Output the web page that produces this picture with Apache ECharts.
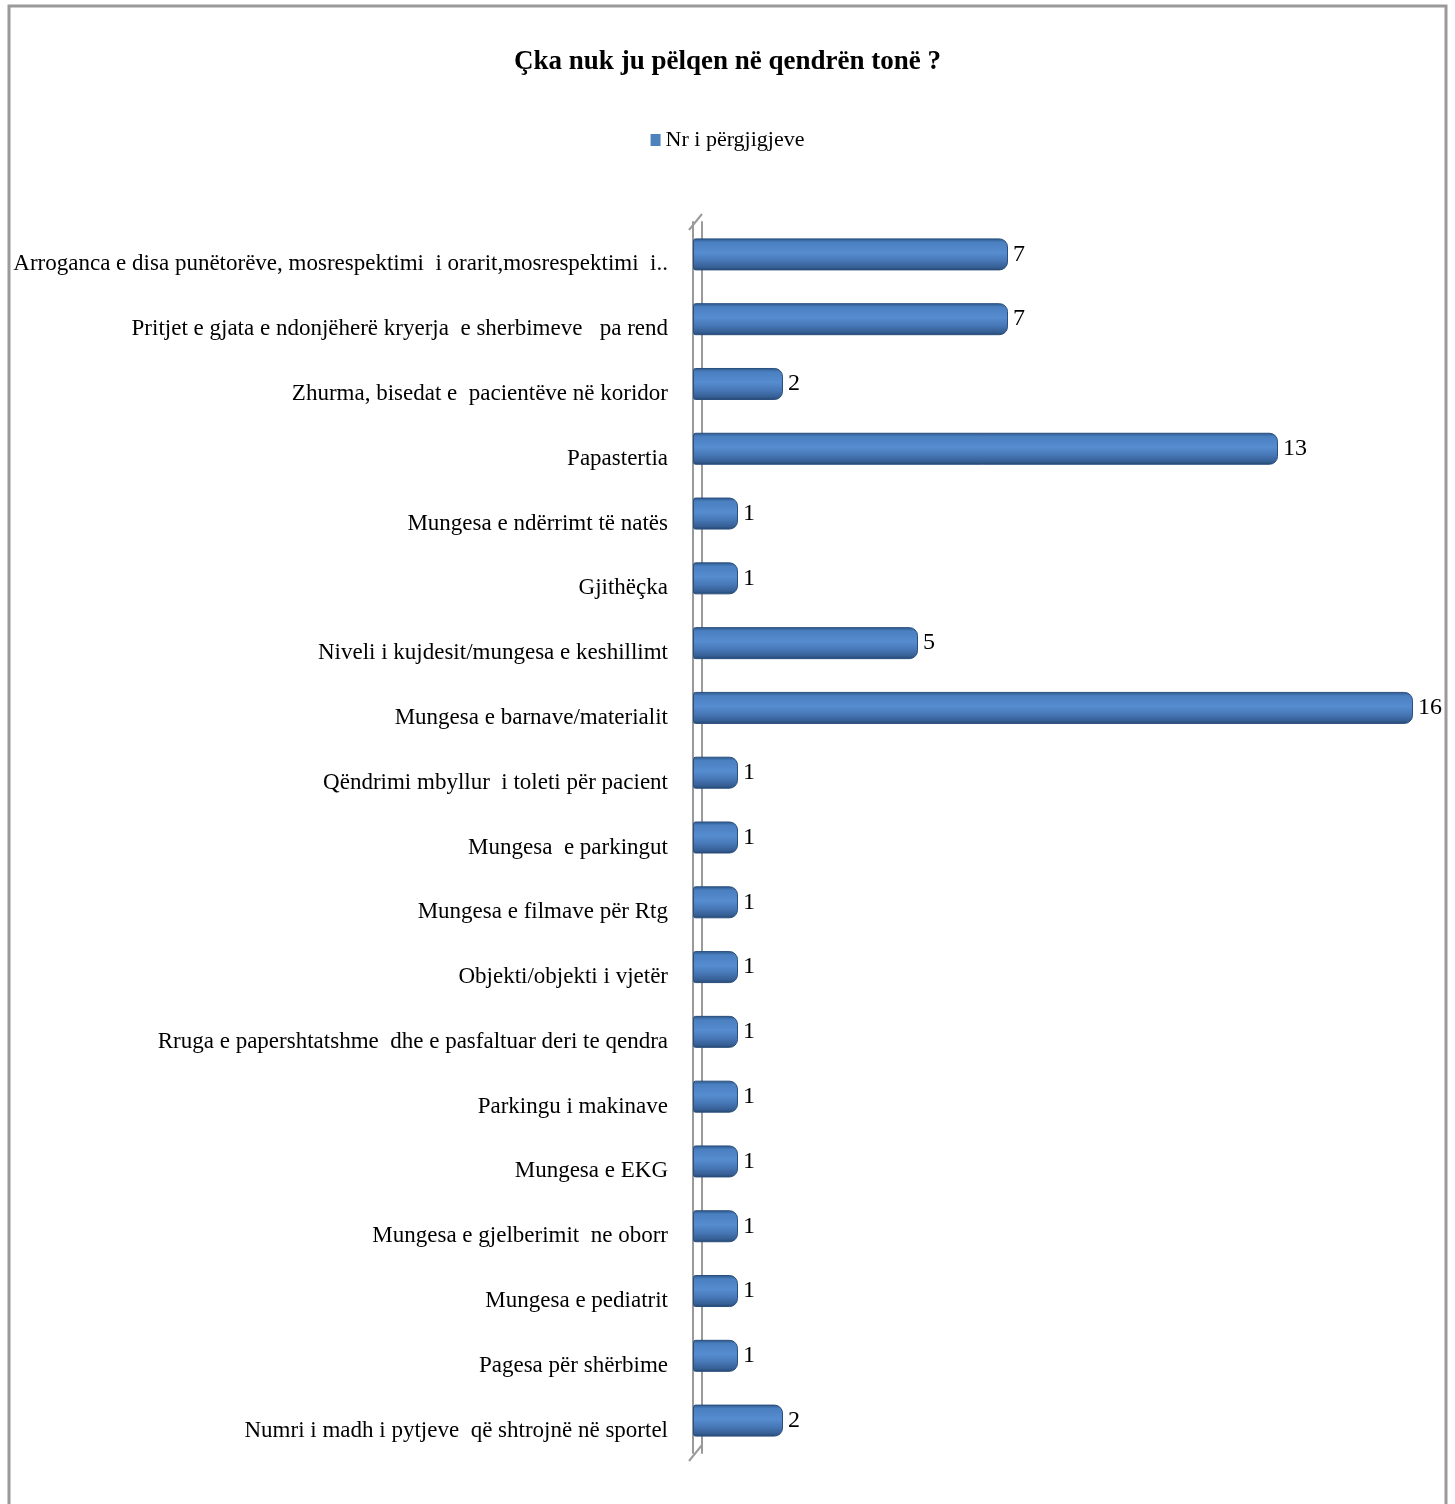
<!DOCTYPE html>
<html>
<head>
<meta charset="utf-8">
<script src="https://cdn.jsdelivr.net/npm/echarts@6/dist/echarts.min.js"></script>
<style>
html,body{margin:0;padding:0;background:#fff;}
#chart{width:1455px;height:1504px;}
</style>
</head>
<body>
<div id="chart"></div>
<script>
const titleText = "Çka nuk ju pëlqen në qendrën tonë ?";
const seriesName = "Nr i përgjigjeve";
const categories = [
  "Arroganca e disa punëtorëve, mosrespektimi  i orarit,mosrespektimi  i..",
  "Pritjet e gjata e ndonjëherë kryerja  e sherbimeve   pa rend",
  "Zhurma, bisedat e  pacientëve në koridor",
  "Papastertia",
  "Mungesa e ndërrimt të natës",
  "Gjithëçka",
  "Niveli i kujdesit/mungesa e keshillimt",
  "Mungesa e barnave/materialit",
  "Qëndrimi mbyllur  i toleti për pacient",
  "Mungesa  e parkingut",
  "Mungesa e filmave për Rtg",
  "Objekti/objekti i vjetër",
  "Rruga e papershtatshme  dhe e pasfaltuar deri te qendra",
  "Parkingu i makinave",
  "Mungesa e EKG",
  "Mungesa e gjelberimit  ne oborr",
  "Mungesa e pediatrit",
  "Pagesa për shërbime",
  "Numri i madh i pytjeve  që shtrojnë në sportel"
];
const values = [7, 7, 2, 13, 1, 1, 5, 16, 1, 1, 1, 1, 1, 1, 1, 1, 1, 1, 2];

const chart = echarts.init(document.getElementById('chart'), null, {renderer: 'canvas'});
const serif = '"Liberation Serif", "Times New Roman", serif';
const barGradient = new echarts.graphic.LinearGradient(0, 0, 0, 1, [
  {offset: 0, color: '#2b5687'},
  {offset: 0.12, color: '#4a7fc0'},
  {offset: 0.45, color: '#568dd0'},
  {offset: 0.7, color: '#4777b6'},
  {offset: 0.9, color: '#365f95'},
  {offset: 1, color: '#24476f'}
]);
const wallColor = '#9a9a9a';
chart.setOption({
  backgroundColor: '#ffffff',
  animation: false,
  title: {
    text: titleText,
    left: 'center',
    top: 44,
    textStyle: {fontFamily: serif, fontSize: 27, fontWeight: 'bold', color: '#000'}
  },
  legend: {
    data: [{name: seriesName, itemStyle: {color: '#4f81bd', borderWidth: 0}}],
    top: 124,
    left: 'center',
    icon: 'rect',
    itemWidth: 10,
    itemHeight: 12,
    itemGap: 4,
    textStyle: {fontFamily: serif, fontSize: 22, color: '#000'}
  },
  grid: {left: 693, right: 42, top: 222, bottom: 51, containLabel: false},
  xAxis: {
    type: 'value',
    min: 0,
    max: 16,
    show: false
  },
  yAxis: [{
    type: 'category',
    data: categories,
    inverse: true,
    offset: 4,
    axisLine: {show: true, lineStyle: {color: wallColor, width: 2}},
    axisTick: {show: false},
    axisLabel: {
      margin: 21,
      verticalAlign: 'top',
      lineHeight: 20,
      fontFamily: serif,
      fontSize: 23,
      color: '#000'
    }
  }, {
    type: 'category',
    data: categories,
    inverse: true,
    position: 'left',
    offset: -9,
    axisLine: {show: true, lineStyle: {color: wallColor, width: 2}},
    axisTick: {show: false},
    axisLabel: {show: false}
  }],
  series: [{
    name: seriesName,
    type: 'bar',
    yAxisIndex: 0,
    data: values,
    barWidth: 32,
    z: 3,
    itemStyle: {
      color: barGradient,
      borderColor: '#2a4f7e',
      borderWidth: 1,
      borderRadius: [2, 8, 8, 2]
    },
    label: {
      show: true,
      position: 'right',
      distance: 5,
      offset: [0, 0],
      fontFamily: serif,
      fontSize: 24,
      color: '#000'
    }
  }]
});

// chart frame and slanted wall edges joining the two axis lines (front and back)
const gridRect = chart.getModel().getComponent('grid').coordinateSystem.getRect();
const x0 = chart.convertToPixel({xAxisIndex: 0}, 0);
chart.setOption({
  graphic: [{
    type: 'rect',
    shape: {x: 9, y: 6, width: 1437, height: 1520},
    style: {fill: 'none', stroke: wallColor, lineWidth: 3},
    silent: true
  }, {
    type: 'line',
    shape: {x1: x0 - 4, y1: gridRect.y + 8, x2: x0 + 9, y2: gridRect.y - 8},
    style: {stroke: wallColor, lineWidth: 2},
    silent: true
  }, {
    type: 'line',
    shape: {x1: x0 - 4, y1: gridRect.y + gridRect.height + 8, x2: x0 + 9, y2: gridRect.y + gridRect.height - 8},
    style: {stroke: wallColor, lineWidth: 2},
    silent: true
  }]
});
</script>
</body>
</html>
